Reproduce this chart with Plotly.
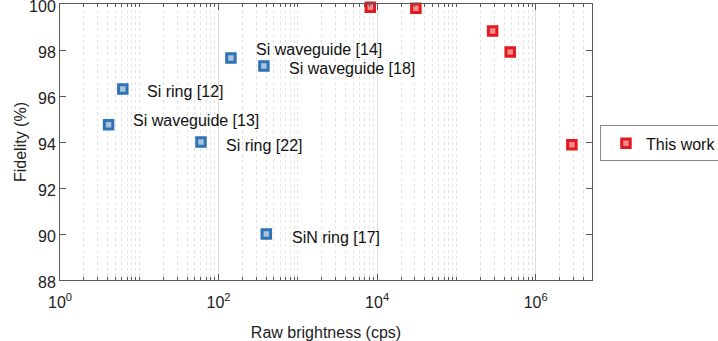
import math
import plotly.graph_objects as go

# Reference works (blue)
ref_labels = ["Si waveguide [14]", "Si waveguide [18]", "Si ring [12]", "Si waveguide [13]", "Si ring [22]", "SiN ring [17]"]
ref_brightness = [143, 373, 6.2, 4.1, 60, 400]
ref_fidelity = [97.65, 97.3, 96.3, 94.75, 94.0, 90.0]
# label offsets in pixels (dx right, dy down)
label_dx = [23, 23, 22, 22, 23, 24]
label_dy = [-9, 2, 2, -4, 3, 3]

# This work (red)
work_brightness = [8200, 30800, 286000, 477000, 2.86e6]
work_fidelity = [99.86, 99.81, 98.83, 97.91, 93.88]

xtick_vals = [1, 100, 1e4, 1e6]
xtick_text = ["10<sup>0</sup>", "10<sup>2</sup>", "10<sup>4</sup>", "10<sup>6</sup>"]
ytick_vals = [88, 90, 92, 94, 96, 98, 100]

FONT = "Liberation Sans, Arial, sans-serif"
AX = "#5a5a5a"

fig = go.Figure()
fig.add_trace(go.Scatter(
    x=ref_brightness, y=ref_fidelity, mode="markers", showlegend=False,
    marker=dict(symbol="square", size=8.5, color="#a9c3dd",
                line=dict(color="#2f73b5", width=3)),
    cliponaxis=False,
))
fig.add_trace(go.Scatter(
    x=work_brightness, y=work_fidelity, mode="markers", name="This work",
    marker=dict(symbol="square", size=8.5, color="#f28a8e",
                line=dict(color="#e3191f", width=3)),
    cliponaxis=False,
))

for lab, xv, yv, dx, dy in zip(ref_labels, ref_brightness, ref_fidelity, label_dx, label_dy):
    fig.add_annotation(x=math.log10(xv), y=yv, text=lab, showarrow=False,
                       xanchor="left", yanchor="middle", xshift=dx, yshift=-dy,
                       font=dict(family=FONT, size=16, color="#111111"))

# y-axis title placed as rotated text
fig.add_annotation(xref="paper", yref="paper", x=-40 / 532, y=0.5, text="Fidelity (%)",
                   textangle=-90, showarrow=False, xanchor="center", yanchor="middle",
                   font=dict(family=FONT, size=16, color="#222222"))

fig.update_layout(
    width=718, height=341,
    margin=dict(l=60, r=126, t=4, b=61, autoexpand=False),
    paper_bgcolor="white", plot_bgcolor="white",
    font=dict(family=FONT, color="#222222"),
    legend=dict(x=1.015, y=0.495, xanchor="left", yanchor="middle",
                bordercolor="#8a8a8a", borderwidth=1, indentation=5,
                font=dict(family=FONT, size=16, color="#111111"),
                itemwidth=30, tracegroupgap=0),
)
fig.update_xaxes(
    type="log", range=[0, 6.71],
    tickvals=xtick_vals, ticktext=xtick_text,
    tickfont=dict(family=FONT, size=16, color="#222222"),
    title=dict(text="Raw brightness (cps)", font=dict(family=FONT, size=16, color="#222222"), standoff=16),
    showline=True, linecolor=AX, linewidth=1, mirror="allticks",
    ticks="inside", ticklen=6, tickcolor=AX, ticklabelstandoff=8,
    showgrid=True, gridcolor="#dcdcdc", gridwidth=1,
    minor=dict(ticks="inside", ticklen=3, tickcolor=AX, showgrid=True, dtick="D1",
               gridcolor="#e3e3e3", griddash="dot", gridwidth=1),
    zeroline=False, ticklabeloverflow="allow", automargin=False,
)
fig.update_yaxes(
    range=[88, 100], tickvals=ytick_vals,
    tickfont=dict(family=FONT, size=16, color="#222222"),
    showline=True, linecolor=AX, linewidth=1, mirror="allticks",
    ticks="inside", ticklen=6, tickcolor=AX, ticklabelshift=2,
    showgrid=False, zeroline=False, ticklabeloverflow="allow", automargin=False,
)

fig.write_html("out.html")
